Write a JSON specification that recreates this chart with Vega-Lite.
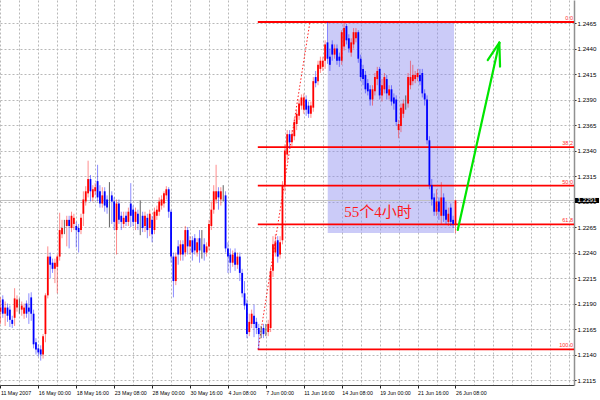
{
  "$schema": "https://vega.github.io/schema/vega-lite/v6.json",
  "width": 574,
  "height": 385,
  "autosize": {"type": "none"},
  "padding": {"left": 0, "top": 0, "right": 26, "bottom": 15},
  "background": "white",
  "config": {
    "view": {"stroke": null},
    "axis": {"labelFont": "Liberation Sans", "labelColor": "#000000", "title": null, "labelOverlap": false, "labelBound": false, "labelFlush": false}
  },
  "datasets": {
    "bars": [
      {"t":0,"o":1.2182,"h":1.2196,"l":1.2170,"c":1.2186},
      {"t":1,"o":1.2194,"h":1.2198,"l":1.2176,"c":1.2180},
      {"t":2,"o":1.2180,"h":1.2192,"l":1.2168,"c":1.2186},
      {"t":3,"o":1.2186,"h":1.2190,"l":1.2172,"c":1.2178},
      {"t":4,"o":1.2184,"h":1.2188,"l":1.2167,"c":1.2174},
      {"t":5,"o":1.2174,"h":1.2178,"l":1.2166,"c":1.2170},
      {"t":6,"o":1.2176,"h":1.2205,"l":1.2168,"c":1.2195},
      {"t":7,"o":1.2186,"h":1.2198,"l":1.2182,"c":1.2194},
      {"t":8,"o":1.2190,"h":1.2195,"l":1.2180,"c":1.2190},
      {"t":9,"o":1.2184,"h":1.2192,"l":1.2178,"c":1.2188},
      {"t":10,"o":1.2180,"h":1.2190,"l":1.2175,"c":1.2186},
      {"t":11,"o":1.2190,"h":1.2193,"l":1.2176,"c":1.2180},
      {"t":12,"o":1.2186,"h":1.2200,"l":1.2170,"c":1.2182},
      {"t":13,"o":1.2196,"h":1.2201,"l":1.2173,"c":1.2180},
      {"t":14,"o":1.2180,"h":1.2184,"l":1.2146,"c":1.2150},
      {"t":15,"o":1.2152,"h":1.2156,"l":1.2140,"c":1.2145},
      {"t":16,"o":1.2146,"h":1.2150,"l":1.2138,"c":1.2142},
      {"t":17,"o":1.2145,"h":1.2149,"l":1.2134,"c":1.2140},
      {"t":18,"o":1.2140,"h":1.2160,"l":1.2136,"c":1.2158},
      {"t":19,"o":1.2160,"h":1.2200,"l":1.2152,"c":1.2198},
      {"t":20,"o":1.2198,"h":1.2246,"l":1.2195,"c":1.2236},
      {"t":21,"o":1.2236,"h":1.2240,"l":1.2215,"c":1.2228},
      {"t":22,"o":1.2230,"h":1.2234,"l":1.2220,"c":1.2224},
      {"t":23,"o":1.2224,"h":1.2234,"l":1.2210,"c":1.2230},
      {"t":24,"o":1.2226,"h":1.2238,"l":1.2200,"c":1.2236},
      {"t":25,"o":1.2236,"h":1.2279,"l":1.2232,"c":1.2262},
      {"t":26,"o":1.2258,"h":1.2272,"l":1.2254,"c":1.2264},
      {"t":27,"o":1.2265,"h":1.2272,"l":1.2258,"c":1.2265},
      {"t":28,"o":1.2266,"h":1.2276,"l":1.2246,"c":1.2272},
      {"t":29,"o":1.2272,"h":1.2276,"l":1.2244,"c":1.2266},
      {"t":30,"o":1.2264,"h":1.2280,"l":1.2260,"c":1.2276},
      {"t":31,"o":1.2268,"h":1.2278,"l":1.2262,"c":1.2274},
      {"t":32,"o":1.2266,"h":1.2270,"l":1.2245,"c":1.2262},
      {"t":33,"o":1.2264,"h":1.2268,"l":1.2240,"c":1.2260},
      {"t":34,"o":1.2262,"h":1.2278,"l":1.2258,"c":1.2274},
      {"t":35,"o":1.2278,"h":1.2300,"l":1.2266,"c":1.2292},
      {"t":36,"o":1.2290,"h":1.2305,"l":1.2286,"c":1.2300},
      {"t":37,"o":1.2298,"h":1.2330,"l":1.2294,"c":1.2312},
      {"t":38,"o":1.2312,"h":1.2316,"l":1.2290,"c":1.2300},
      {"t":39,"o":1.2294,"h":1.2306,"l":1.2290,"c":1.2302},
      {"t":40,"o":1.2300,"h":1.2308,"l":1.2296,"c":1.2304},
      {"t":41,"o":1.2310,"h":1.2326,"l":1.2290,"c":1.2294},
      {"t":42,"o":1.2300,"h":1.2306,"l":1.2284,"c":1.2288},
      {"t":43,"o":1.2288,"h":1.2304,"l":1.2284,"c":1.2296},
      {"t":44,"o":1.2300,"h":1.2304,"l":1.2280,"c":1.2286},
      {"t":45,"o":1.2292,"h":1.2296,"l":1.2278,"c":1.2284},
      {"t":46,"o":1.2296,"h":1.2309,"l":1.2265,"c":1.2296},
      {"t":47,"o":1.2296,"h":1.2300,"l":1.2268,"c":1.2290},
      {"t":48,"o":1.2290,"h":1.2294,"l":1.2262,"c":1.2270},
      {"t":49,"o":1.2262,"h":1.2292,"l":1.2238,"c":1.2288},
      {"t":50,"o":1.2288,"h":1.2292,"l":1.2268,"c":1.2272},
      {"t":51,"o":1.2276,"h":1.2280,"l":1.2262,"c":1.2270},
      {"t":52,"o":1.2268,"h":1.2280,"l":1.2264,"c":1.2274},
      {"t":53,"o":1.2276,"h":1.2280,"l":1.2266,"c":1.2270},
      {"t":54,"o":1.2270,"h":1.2284,"l":1.2266,"c":1.2280},
      {"t":55,"o":1.2288,"h":1.2308,"l":1.2265,"c":1.2276},
      {"t":56,"o":1.2282,"h":1.2286,"l":1.2266,"c":1.2270},
      {"t":57,"o":1.2270,"h":1.2284,"l":1.2262,"c":1.2280},
      {"t":58,"o":1.2278,"h":1.2282,"l":1.2262,"c":1.2268},
      {"t":59,"o":1.2272,"h":1.2291,"l":1.2257,"c":1.2272},
      {"t":60,"o":1.2276,"h":1.2280,"l":1.2260,"c":1.2264},
      {"t":61,"o":1.2266,"h":1.2280,"l":1.2260,"c":1.2276},
      {"t":62,"o":1.2274,"h":1.2278,"l":1.2254,"c":1.2262},
      {"t":63,"o":1.2264,"h":1.2282,"l":1.2256,"c":1.2278},
      {"t":64,"o":1.2272,"h":1.2276,"l":1.2250,"c":1.2258},
      {"t":65,"o":1.2262,"h":1.2284,"l":1.2258,"c":1.2280},
      {"t":66,"o":1.2276,"h":1.2286,"l":1.2272,"c":1.2282},
      {"t":67,"o":1.2280,"h":1.2294,"l":1.2276,"c":1.2290},
      {"t":68,"o":1.2286,"h":1.2296,"l":1.2282,"c":1.2292},
      {"t":69,"o":1.2288,"h":1.2300,"l":1.2284,"c":1.2298},
      {"t":70,"o":1.2296,"h":1.2305,"l":1.2292,"c":1.2302},
      {"t":71,"o":1.2302,"h":1.2304,"l":1.2274,"c":1.2280},
      {"t":72,"o":1.2280,"h":1.2282,"l":1.2230,"c":1.2236},
      {"t":73,"o":1.2236,"h":1.2240,"l":1.2196,"c":1.2212},
      {"t":74,"o":1.2212,"h":1.2240,"l":1.2208,"c":1.2236},
      {"t":75,"o":1.2246,"h":1.2252,"l":1.2228,"c":1.2238},
      {"t":76,"o":1.2238,"h":1.2252,"l":1.2232,"c":1.2248},
      {"t":77,"o":1.2248,"h":1.2252,"l":1.2232,"c":1.2238},
      {"t":78,"o":1.2240,"h":1.2266,"l":1.2236,"c":1.2262},
      {"t":79,"o":1.2262,"h":1.2265,"l":1.2238,"c":1.2246},
      {"t":80,"o":1.2246,"h":1.2256,"l":1.2238,"c":1.2252},
      {"t":81,"o":1.2252,"h":1.2256,"l":1.2232,"c":1.2240},
      {"t":82,"o":1.2254,"h":1.2258,"l":1.2238,"c":1.2242},
      {"t":83,"o":1.2240,"h":1.2254,"l":1.2236,"c":1.2250},
      {"t":84,"o":1.2254,"h":1.2262,"l":1.2230,"c":1.2242},
      {"t":85,"o":1.2246,"h":1.2262,"l":1.2234,"c":1.2246},
      {"t":86,"o":1.2248,"h":1.2254,"l":1.2232,"c":1.2240},
      {"t":87,"o":1.2240,"h":1.2250,"l":1.2236,"c":1.2246},
      {"t":88,"o":1.2246,"h":1.2272,"l":1.2242,"c":1.2268},
      {"t":89,"o":1.2266,"h":1.2290,"l":1.2262,"c":1.2282},
      {"t":90,"o":1.2282,"h":1.2306,"l":1.2278,"c":1.2300},
      {"t":91,"o":1.2292,"h":1.2326,"l":1.2288,"c":1.2300},
      {"t":92,"o":1.2300,"h":1.2304,"l":1.2282,"c":1.2294},
      {"t":93,"o":1.2292,"h":1.2304,"l":1.2286,"c":1.2300},
      {"t":94,"o":1.2300,"h":1.2306,"l":1.2290,"c":1.2300},
      {"t":95,"o":1.2296,"h":1.2300,"l":1.2240,"c":1.2244},
      {"t":96,"o":1.2244,"h":1.2250,"l":1.2220,"c":1.2236},
      {"t":97,"o":1.2238,"h":1.2244,"l":1.2220,"c":1.2230},
      {"t":98,"o":1.2230,"h":1.2242,"l":1.2226,"c":1.2238},
      {"t":99,"o":1.2240,"h":1.2244,"l":1.2222,"c":1.2228},
      {"t":100,"o":1.2228,"h":1.2240,"l":1.2224,"c":1.2236},
      {"t":101,"o":1.2236,"h":1.2240,"l":1.2212,"c":1.2220},
      {"t":102,"o":1.2220,"h":1.2224,"l":1.2196,"c":1.2200},
      {"t":103,"o":1.2200,"h":1.2212,"l":1.2184,"c":1.2188},
      {"t":104,"o":1.2190,"h":1.2194,"l":1.2156,"c":1.2160},
      {"t":105,"o":1.2162,"h":1.2180,"l":1.2158,"c":1.2172},
      {"t":106,"o":1.2170,"h":1.2184,"l":1.2166,"c":1.2180},
      {"t":107,"o":1.2178,"h":1.2189,"l":1.2157,"c":1.2170},
      {"t":108,"o":1.2172,"h":1.2176,"l":1.2160,"c":1.2166},
      {"t":109,"o":1.2166,"h":1.2170,"l":1.2145,"c":1.2160},
      {"t":110,"o":1.2162,"h":1.2168,"l":1.2156,"c":1.2162},
      {"t":111,"o":1.2166,"h":1.2170,"l":1.2156,"c":1.2160},
      {"t":112,"o":1.2164,"h":1.2170,"l":1.2158,"c":1.2164},
      {"t":113,"o":1.2162,"h":1.2174,"l":1.2158,"c":1.2170},
      {"t":114,"o":1.2166,"h":1.2226,"l":1.2162,"c":1.2222},
      {"t":115,"o":1.2222,"h":1.2256,"l":1.2216,"c":1.2248},
      {"t":116,"o":1.2240,"h":1.2258,"l":1.2236,"c":1.2250},
      {"t":117,"o":1.2252,"h":1.2256,"l":1.2230,"c":1.2236},
      {"t":118,"o":1.2238,"h":1.2256,"l":1.2234,"c":1.2250},
      {"t":119,"o":1.2252,"h":1.2310,"l":1.2248,"c":1.2306},
      {"t":120,"o":1.2306,"h":1.2346,"l":1.2300,"c":1.2340},
      {"t":121,"o":1.2336,"h":1.2360,"l":1.2330,"c":1.2356},
      {"t":122,"o":1.2356,"h":1.2360,"l":1.2342,"c":1.2348},
      {"t":123,"o":1.2348,"h":1.2360,"l":1.2344,"c":1.2356},
      {"t":124,"o":1.2354,"h":1.2372,"l":1.2350,"c":1.2368},
      {"t":125,"o":1.2366,"h":1.2380,"l":1.2360,"c":1.2376},
      {"t":126,"o":1.2374,"h":1.2390,"l":1.2370,"c":1.2386},
      {"t":127,"o":1.2384,"h":1.2395,"l":1.2380,"c":1.2392},
      {"t":128,"o":1.2380,"h":1.2396,"l":1.2376,"c":1.2392},
      {"t":129,"o":1.2390,"h":1.2394,"l":1.2374,"c":1.2380},
      {"t":130,"o":1.2384,"h":1.2388,"l":1.2372,"c":1.2376},
      {"t":131,"o":1.2376,"h":1.2388,"l":1.2372,"c":1.2384},
      {"t":132,"o":1.2382,"h":1.2412,"l":1.2378,"c":1.2408},
      {"t":133,"o":1.2412,"h":1.2418,"l":1.2402,"c":1.2406},
      {"t":134,"o":1.2408,"h":1.2428,"l":1.2404,"c":1.2424},
      {"t":135,"o":1.2420,"h":1.2432,"l":1.2416,"c":1.2428},
      {"t":136,"o":1.2422,"h":1.2432,"l":1.2418,"c":1.2428},
      {"t":137,"o":1.2428,"h":1.2448,"l":1.2420,"c":1.2444},
      {"t":138,"o":1.2446,"h":1.2466,"l":1.2425,"c":1.2430},
      {"t":139,"o":1.2432,"h":1.2440,"l":1.2418,"c":1.2424},
      {"t":140,"o":1.2444,"h":1.2448,"l":1.2428,"c":1.2434},
      {"t":141,"o":1.2434,"h":1.2444,"l":1.2430,"c":1.2440},
      {"t":142,"o":1.2440,"h":1.2444,"l":1.2424,"c":1.2428},
      {"t":143,"o":1.2432,"h":1.2436,"l":1.2422,"c":1.2428},
      {"t":144,"o":1.2428,"h":1.2458,"l":1.2424,"c":1.2456},
      {"t":145,"o":1.2442,"h":1.2466,"l":1.2438,"c":1.2460},
      {"t":146,"o":1.2462,"h":1.2464,"l":1.2444,"c":1.2448},
      {"t":147,"o":1.2450,"h":1.2454,"l":1.2436,"c":1.2440},
      {"t":148,"o":1.2436,"h":1.2450,"l":1.2432,"c":1.2446},
      {"t":149,"o":1.2444,"h":1.2460,"l":1.2440,"c":1.2456},
      {"t":150,"o":1.2450,"h":1.2460,"l":1.2446,"c":1.2456},
      {"t":151,"o":1.2456,"h":1.2458,"l":1.2426,"c":1.2430},
      {"t":152,"o":1.2430,"h":1.2434,"l":1.2408,"c":1.2412},
      {"t":153,"o":1.2420,"h":1.2424,"l":1.2404,"c":1.2410},
      {"t":154,"o":1.2414,"h":1.2418,"l":1.2396,"c":1.2400},
      {"t":155,"o":1.2406,"h":1.2410,"l":1.2394,"c":1.2398},
      {"t":156,"o":1.2400,"h":1.2404,"l":1.2384,"c":1.2390},
      {"t":157,"o":1.2390,"h":1.2404,"l":1.2384,"c":1.2400},
      {"t":158,"o":1.2398,"h":1.2416,"l":1.2394,"c":1.2412},
      {"t":159,"o":1.2410,"h":1.2422,"l":1.2404,"c":1.2418},
      {"t":160,"o":1.2420,"h":1.2422,"l":1.2390,"c":1.2394},
      {"t":161,"o":1.2394,"h":1.2410,"l":1.2388,"c":1.2404},
      {"t":162,"o":1.2400,"h":1.2416,"l":1.2396,"c":1.2412},
      {"t":163,"o":1.2410,"h":1.2414,"l":1.2390,"c":1.2396},
      {"t":164,"o":1.2394,"h":1.2404,"l":1.2390,"c":1.2400},
      {"t":165,"o":1.2400,"h":1.2404,"l":1.2384,"c":1.2388},
      {"t":166,"o":1.2392,"h":1.2396,"l":1.2380,"c":1.2386},
      {"t":167,"o":1.2390,"h":1.2394,"l":1.2364,"c":1.2368},
      {"t":168,"o":1.2360,"h":1.2370,"l":1.2352,"c":1.2366},
      {"t":169,"o":1.2364,"h":1.2386,"l":1.2358,"c":1.2382},
      {"t":170,"o":1.2376,"h":1.2390,"l":1.2372,"c":1.2386},
      {"t":171,"o":1.2388,"h":1.2394,"l":1.2380,"c":1.2388},
      {"t":172,"o":1.2386,"h":1.2416,"l":1.2382,"c":1.2412},
      {"t":173,"o":1.2404,"h":1.2428,"l":1.2400,"c":1.2412},
      {"t":174,"o":1.2408,"h":1.2424,"l":1.2404,"c":1.2414},
      {"t":175,"o":1.2410,"h":1.2418,"l":1.2406,"c":1.2414},
      {"t":176,"o":1.2412,"h":1.2420,"l":1.2408,"c":1.2416},
      {"t":177,"o":1.2414,"h":1.2420,"l":1.2404,"c":1.2408},
      {"t":178,"o":1.2416,"h":1.2420,"l":1.2392,"c":1.2396},
      {"t":179,"o":1.2396,"h":1.2400,"l":1.2384,"c":1.2390},
      {"t":180,"o":1.2390,"h":1.2394,"l":1.2346,"c":1.2350},
      {"t":181,"o":1.2350,"h":1.2354,"l":1.2302,"c":1.2306},
      {"t":182,"o":1.2306,"h":1.2312,"l":1.2286,"c":1.2292},
      {"t":183,"o":1.2294,"h":1.2298,"l":1.2276,"c":1.2280},
      {"t":184,"o":1.2280,"h":1.2302,"l":1.2276,"c":1.2290},
      {"t":185,"o":1.2290,"h":1.2294,"l":1.2272,"c":1.2280},
      {"t":186,"o":1.2276,"h":1.2309,"l":1.2268,"c":1.2294},
      {"t":187,"o":1.2294,"h":1.2298,"l":1.2270,"c":1.2276},
      {"t":188,"o":1.2282,"h":1.2290,"l":1.2268,"c":1.2272},
      {"t":189,"o":1.2270,"h":1.2284,"l":1.2266,"c":1.2278},
      {"t":190,"o":1.2284,"h":1.2288,"l":1.2266,"c":1.2270},
      {"t":191,"o":1.2272,"h":1.2276,"l":1.2264,"c":1.2268},
      {"t":192,"o":1.2268,"h":1.2292,"l":1.2259,"c":1.2291}
    ],
    "fibo": [
      {"level": "0.0", "p": 1.2466, "t0": 108.6, "t1": 242},
      {"level": "38.2", "p": 1.234338, "t0": 108.6, "t1": 242},
      {"level": "50.0", "p": 1.23055, "t0": 108.6, "t1": 242},
      {"level": "61.8", "p": 1.226762, "t0": 108.6, "t1": 242},
      {"level": "100.0", "p": 1.2145, "t0": 108.6, "t1": 242}
    ],
    "fiboTrend": [
      {"t": 108.7, "p": 1.2145},
      {"t": 130.6, "p": 1.2466}
    ],
    "box": [
      {"t0": 138.1, "t1": 191.4, "p0": 1.2466, "p1": 1.2259}
    ],
    "note": [
      {"t": 159.3, "p": 1.2280, "text": "55个4小时"}
    ],
    "arrow": [
      {"g": "shaft", "i": 0, "t": 192.95, "p": 1.22621},
      {"g": "shaft", "i": 1, "t": 210.5, "p": 1.24457},
      {"g": "left", "i": 0, "t": 205.6, "p": 1.24287},
      {"g": "left", "i": 1, "t": 210.5, "p": 1.24457},
      {"g": "right", "i": 0, "t": 210.8, "p": 1.24222},
      {"g": "right", "i": 1, "t": 210.5, "p": 1.24457}
    ],
    "bid": [
      {"p": 1.2291}
    ]
  },
  "layer": [
    {
      "data": {"name": "box"},
      "mark": {"type": "rect", "fill": "#8c8cf0", "fillOpacity": 0.45},
      "encoding": {
        "x": {"field": "t0", "type": "quantitative", "scale": {"domain": [-0.17, 242], "nice": false, "zero": false},
          "axis": {
            "values": [0,8,16,24,32,40,48,56,64,72,80,88,96,104,112,120,128,136,144,152,160,168,176,184,192,200,208,216,224,232,240],
            "tickCount": 200,
            "labelExpr": "(datum.value % 16 === 0 && datum.value <= 192) ? ['11 May 2007','16 May 00:00','18 May 16:00','23 May 08:00','28 May 00:00','30 May 16:00','4 Jun 08:00','7 Jun 00:00','11 Jun 16:00','14 Jun 08:00','19 Jun 00:00','21 Jun 16:00','26 Jun 08:00'][datum.value / 16] : ''",
            "grid": true, "gridColor": "#b8b8b8", "gridDash": [2, 2], "gridWidth": 1,
            "tickSize": 3, "tickColor": "#202020",
            "tickOpacity": {"condition": {"test": "datum.value % 16 === 0 && datum.value <= 192", "value": 1}, "value": 0},
            "domainColor": "#404040", "domainWidth": 1,
            "labelAlign": "left", "labelBaseline": "top", "labelPadding": 2, "labelDx": 0.5,
            "labelFontSize": 5.3, "labelOverlap": false, "labelBound": false, "labelFlush": false
          }},
        "x2": {"field": "t1"},
        "y": {"field": "p0", "type": "quantitative", "scale": {"domain": [1.21101, 1.248755], "nice": false, "zero": false},
          "axis": {
            "orient": "right",
            "values": [1.2115,1.214,1.2165,1.219,1.2215,1.224,1.2265,1.229,1.2315,1.234,1.2365,1.239,1.2415,1.244,1.2465],
            "tickCount": 200,
            "format": ".4f",
            "grid": true, "gridColor": "#b8b8b8", "gridDash": [2, 2], "gridWidth": 1,
            "tickSize": 2, "tickColor": "#202020",
            "domainColor": "#909090", "domainWidth": 1.5,
            "labelPadding": 1, "labelFontSize": 6.2, "labelBaseline": "middle",
            "labelOverlap": false, "labelBound": false, "labelFlush": false
          }},
        "y2": {"field": "p1"}
      }
    },
    {
      "data": {"name": "bid"},
      "mark": {"type": "rule", "stroke": "#c0c0c0", "strokeWidth": 1},
      "encoding": {
        "y": {"field": "p", "type": "quantitative"}
      }
    },
    {
      "data": {"name": "fibo"},
      "mark": {"type": "rule", "stroke": "#ff0000", "strokeWidth": 1.8},
      "encoding": {
        "x": {"field": "t0", "type": "quantitative"},
        "x2": {"field": "t1"},
        "y": {"field": "p", "type": "quantitative"}
      }
    },
    {
      "data": {"name": "fibo"},
      "mark": {"type": "text", "align": "right", "baseline": "bottom", "dx": -1, "dy": -1, "fontSize": 5.5, "font": "Liberation Sans", "fill": "#ff3030"},
      "encoding": {
        "x": {"field": "t1", "type": "quantitative"},
        "y": {"field": "p", "type": "quantitative"},
        "text": {"field": "level"}
      }
    },
    {
      "data": {"name": "fiboTrend"},
      "mark": {"type": "line", "stroke": "#ff2020", "strokeWidth": 1, "strokeDash": [1.5, 2]},
      "encoding": {
        "x": {"field": "t", "type": "quantitative"},
        "y": {"field": "p", "type": "quantitative"}
      }
    },
    {
      "data": {"name": "bars"},
      "mark": {"type": "rule", "strokeWidth": 1},
      "encoding": {
        "x": {"field": "t", "type": "quantitative"},
        "y": {"field": "l", "type": "quantitative"},
        "y2": {"field": "h"},
        "color": {"condition": [{"test": "datum.c > datum.o", "value": "#ff0000"}, {"test": "datum.c < datum.o", "value": "#0000ff"}], "value": "#505050"},
        "opacity": {"condition": {"test": "datum.c === datum.o", "value": 0.9}, "value": 0.45}
      }
    },
    {
      "data": {"name": "bars"},
      "mark": {"type": "rule", "strokeWidth": 1.8},
      "encoding": {
        "x": {"field": "t", "type": "quantitative"},
        "y": {"field": "o", "type": "quantitative"},
        "y2": {"field": "c"},
        "color": {"condition": [{"test": "datum.c > datum.o", "value": "#ff0000"}, {"test": "datum.c < datum.o", "value": "#0000ff"}], "value": "#505050"}
      }
    },
    {
      "data": {"name": "note"},
      "mark": {"type": "text", "align": "center", "baseline": "middle", "fontSize": 15, "font": "Liberation Serif, Noto Sans CJK SC", "fill": "#ff1a1a"},
      "encoding": {
        "x": {"field": "t", "type": "quantitative"},
        "y": {"field": "p", "type": "quantitative"},
        "text": {"field": "text"}
      }
    },
    {
      "data": {"name": "arrow"},
      "mark": {"type": "line", "stroke": "#00e600", "strokeWidth": 2.2, "strokeCap": "round"},
      "encoding": {
        "x": {"field": "t", "type": "quantitative"},
        "y": {"field": "p", "type": "quantitative"},
        "detail": {"field": "g"},
        "order": {"field": "i"}
      }
    },
    {
      "data": {"name": "bid"},
      "mark": {"type": "point", "shape": "M-1,-0.21H1V0.21H-1Z", "size": 576, "filled": true, "fill": "#000000", "opacity": 1},
      "encoding": {
        "x": {"datum": 247.5, "type": "quantitative"},
        "y": {"field": "p", "type": "quantitative"}
      }
    },
    {
      "data": {"name": "bid"},
      "mark": {"type": "text", "align": "center", "baseline": "middle", "fontSize": 6.2, "font": "Liberation Sans", "fill": "#ffffff"},
      "encoding": {
        "x": {"datum": 247.5, "type": "quantitative"},
        "y": {"field": "p", "type": "quantitative"},
        "text": {"field": "p", "type": "quantitative", "format": ".4f"}
      }
    }
  ]
}
